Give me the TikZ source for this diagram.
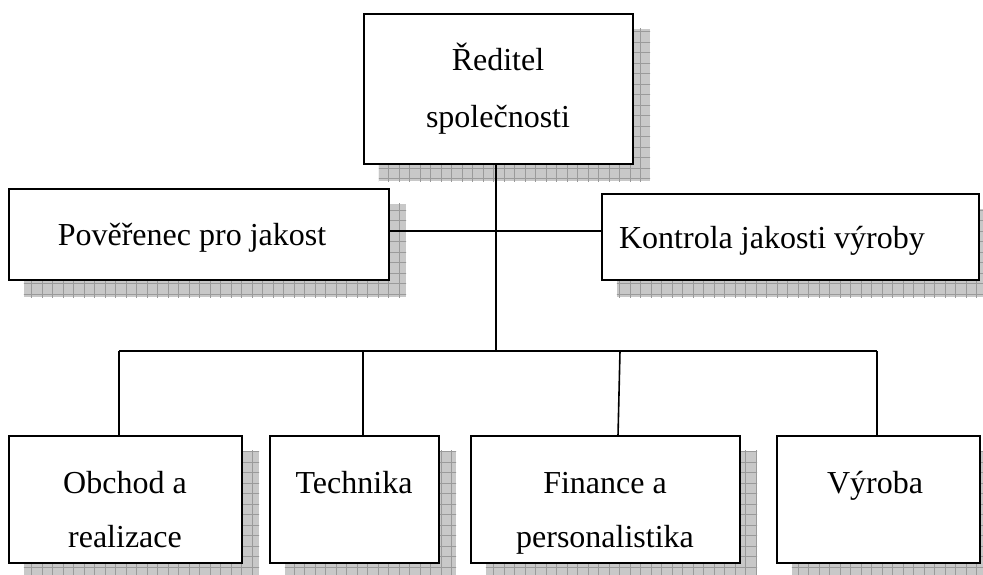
\documentclass[tikz,border=0pt]{standalone}
\usepackage{fontspec}
\setmainfont{Liberation Serif}
\usetikzlibrary{backgrounds}
\definecolor{shfill}{HTML}{C8C8C8}
\definecolor{shgrid}{HTML}{9A9A9A}
\tikzset{
  box/.style={draw=black, line width=2.4pt, fill=white, rectangle, inner sep=0pt},
  lbl/.style={inner sep=0pt, anchor=base, font=\fontsize{32}{38}\selectfont},
  conn/.style={draw=black, line width=1.6pt},
}
\newcommand\boxshadow[1]{%
  \begin{scope}
    \clip ([shift={(16,16)}]#1.south west) rectangle ([shift={(16,16)}]#1.north east);
    \fill[shfill] ([shift={(16,16)}]#1.south west) rectangle ([shift={(16,16)}]#1.north east);
    \foreach \gx in {0,10.5,...,990} {\draw[shgrid, line width=0.8pt] (\gx,0) -- (\gx,600);}
    \foreach \gy in {0,10.5,...,600} {\draw[shgrid, line width=0.8pt] (0,\gy) -- (990,\gy);}
  \end{scope}}
\begin{document}
\begin{tikzpicture}[x=1pt,y=-1pt]
\useasboundingbox (0,0) rectangle (983,574);
% boxes
\node[box, minimum width=269pt, minimum height=150pt] (dir) at (498.5,89) {};
\node[box, minimum width=380pt, minimum height=91pt] (pov) at (199,234.5) {};
\node[box, minimum width=377pt, minimum height=86pt] (kon) at (790.5,237) {};
\node[box, minimum width=233pt, minimum height=127pt] (obc) at (125.5,499.5) {};
\node[box, minimum width=169pt, minimum height=127pt] (tec) at (354.5,499.5) {};
\node[box, minimum width=269pt, minimum height=127pt] (fin) at (605.5,499.5) {};
\node[box, minimum width=203pt, minimum height=127pt] (vyr) at (878.5,499.5) {};
% shadows
\begin{scope}[on background layer]
  \boxshadow{dir}
  \boxshadow{pov}
  \boxshadow{kon}
  \boxshadow{obc}
  \boxshadow{tec}
  \boxshadow{fin}
  \boxshadow{vyr}
\end{scope}
% texts
\node[lbl] (dir1) at (498,70) {Ředitel};
\node[lbl] (dir2) at (498,127) {společnosti};
\node[lbl] (povt) at (192,245) {Pověřenec pro jakost};
\node[lbl] (kont) at (772,248) {Kontrola jakosti výroby};
\node[lbl] (obc1) at (125,493) {Obchod a};
\node[lbl] (obc2) at (125,547) {realizace};
\node[lbl] (tect) at (354,493) {Technika};
\node[lbl] (fin1) at (605,493) {Finance a};
\node[lbl] (fin2) at (605,547) {personalistika};
\node[lbl] (vyrt) at (875,493) {Výroba};
% connectors
\coordinate (top) at (496,164);
\coordinate (bus) at (496,351);
\coordinate (hy) at (496,231);
\coordinate (bL) at (119,351);
\coordinate (bT) at (363,351);
\coordinate (bF) at (620,351);
\coordinate (bV) at (877,351);
\draw[conn] (dir.south -| top) -- (bus);
\draw[conn] (pov.east |- hy) -- (kon.west |- hy);
\draw[conn] (bL) -- (bV);
\draw[conn] (bL) -- (bL |- obc.north);
\draw[conn] (bT) -- (bT |- tec.north);
\draw[conn] (bF) -- (618,436);
\draw[conn] (bV) -- (bV |- vyr.north);
\end{tikzpicture}
\end{document}
